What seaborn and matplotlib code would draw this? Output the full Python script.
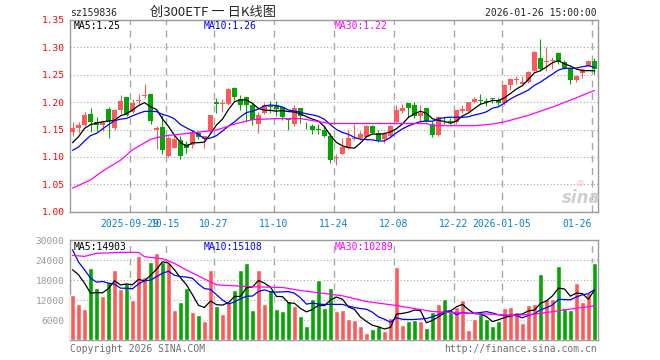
import numpy as np
import pandas as pd
import seaborn as sns
import matplotlib.pyplot as plt

# daily bars (open / high / low / close)
open_ = [1.145, 1.152, 1.159, 1.179, 1.164, 1.158, 1.187, 1.152, 1.185, 1.209,
         1.182, 1.202, 1.211, 1.215, 1.150, 1.154, 1.101, 1.117, 1.130, 1.123,
         1.121, 1.143, 1.132, 1.147, 1.200, 1.197, 1.196, 1.226, 1.205, 1.210,
         1.194, 1.161, 1.180, 1.193, 1.195, 1.191, 1.169, 1.160, 1.190, 1.164,
         1.156, 1.151, 1.149, 1.139, 1.098, 1.106, 1.116, 1.132, 1.135, 1.137,
         1.157, 1.144, 1.132, 1.139, 1.163, 1.183, 1.198, 1.194, 1.175, 1.189,
         1.160, 1.140, 1.166, 1.165, 1.163, 1.183, 1.183, 1.200, 1.204, 1.202,
         1.207, 1.204, 1.198, 1.231, 1.241, 1.234, 1.236, 1.257, 1.280, 1.274,
         1.275, 1.290, 1.274, 1.263, 1.241, 1.254, 1.266, 1.275]
high = [1.163, 1.164, 1.182, 1.190, 1.172, 1.166, 1.191, 1.187, 1.213, 1.209,
        1.205, 1.215, 1.233, 1.215, 1.156, 1.176, 1.139, 1.139, 1.138, 1.129,
        1.150, 1.147, 1.139, 1.176, 1.208, 1.205, 1.225, 1.227, 1.213, 1.210,
        1.200, 1.182, 1.199, 1.202, 1.202, 1.192, 1.170, 1.194, 1.190, 1.164,
        1.161, 1.161, 1.156, 1.144, 1.106, 1.135, 1.149, 1.161, 1.147, 1.158,
        1.158, 1.150, 1.145, 1.158, 1.195, 1.197, 1.199, 1.200, 1.194, 1.189,
        1.166, 1.175, 1.172, 1.171, 1.186, 1.194, 1.201, 1.210, 1.215, 1.208,
        1.208, 1.207, 1.233, 1.245, 1.248, 1.247, 1.256, 1.293, 1.315, 1.300,
        1.282, 1.292, 1.277, 1.264, 1.249, 1.262, 1.275, 1.280]
low = [1.138, 1.143, 1.157, 1.145, 1.148, 1.148, 1.134, 1.150, 1.179, 1.174,
       1.180, 1.197, 1.207, 1.160, 1.115, 1.106, 1.100, 1.116, 1.096, 1.107,
       1.116, 1.132, 1.116, 1.145, 1.180, 1.182, 1.195, 1.204, 1.185, 1.164,
       1.159, 1.144, 1.179, 1.180, 1.174, 1.168, 1.149, 1.156, 1.162, 1.151,
       1.141, 1.141, 1.137, 1.089, 1.085, 1.105, 1.115, 1.131, 1.130, 1.134,
       1.143, 1.128, 1.126, 1.137, 1.163, 1.181, 1.172, 1.171, 1.163, 1.164,
       1.136, 1.138, 1.160, 1.160, 1.161, 1.181, 1.182, 1.199, 1.196, 1.193,
       1.199, 1.195, 1.195, 1.222, 1.233, 1.233, 1.235, 1.256, 1.257, 1.257,
       1.261, 1.269, 1.261, 1.233, 1.237, 1.245, 1.266, 1.251]
close = [1.152, 1.159, 1.177, 1.163, 1.158, 1.164, 1.165, 1.185, 1.203, 1.177,
         1.199, 1.204, 1.213, 1.165, 1.152, 1.113, 1.135, 1.132, 1.101, 1.116,
         1.145, 1.136, 1.138, 1.176, 1.197, 1.198, 1.224, 1.209, 1.194, 1.194,
         1.168, 1.177, 1.194, 1.192, 1.187, 1.173, 1.168, 1.190, 1.174, 1.163,
         1.150, 1.150, 1.139, 1.094, 1.099, 1.119, 1.134, 1.134, 1.141, 1.157,
         1.144, 1.130, 1.141, 1.157, 1.185, 1.189, 1.189, 1.174, 1.180, 1.166,
         1.140, 1.173, 1.165, 1.164, 1.185, 1.187, 1.200, 1.206, 1.203, 1.201,
         1.206, 1.198, 1.232, 1.242, 1.242, 1.237, 1.255, 1.292, 1.261, 1.276,
         1.276, 1.274, 1.263, 1.241, 1.248, 1.261, 1.275, 1.261]
volume = [13600, 10900, 9400, 21700, 15700, 13300, 17300, 21100, 15400, 17200,
          12100, 25300, 19000, 23500, 26200, 23500, 23200, 9100, 11500, 15700,
          8500, 7600, 5800, 21100, 10300, 7900, 11200, 15100, 21100, 23200,
          9100, 21100, 10900, 15100, 9400, 8800, 11800, 10300, 7300, 4300,
          12400, 18100, 9700, 15700, 8800, 9100, 6500, 6100, 4300, 2200,
          3400, 4200, 2800, 6700, 22000, 4600, 5900, 6100, 5800, 3700,
          8400, 10900, 12400, 8400, 10000, 12000, 3100, 6400, 7800, 6300,
          4300, 5900, 9700, 10000, 8500, 5200, 10600, 10900, 19900, 12400,
          12500, 22300, 9700, 9100, 17200, 11500, 14000, 23200]

# averages that depend on days before the visible range
ma5_head = [1.126, 1.137, 1.152, 1.159]
ma10_head = [1.112, 1.118, 1.129, 1.139, 1.143, 1.151, 1.159, 1.166, 1.169]
ma30_bars = [0, 3, 5, 8, 10, 13, 15, 20, 24, 27, 30, 34, 38, 43, 53, 59, 60, 67,
             70, 72, 76, 80, 84, 86, 87]
ma30_vals = [1.043, 1.058, 1.074, 1.094, 1.113, 1.132, 1.138, 1.144, 1.149, 1.160,
             1.168, 1.170, 1.170, 1.161, 1.161, 1.161, 1.157, 1.157, 1.160, 1.164,
             1.176, 1.191, 1.208, 1.217, 1.221]
vol_ma5_head = [21100, 19600, 17100, 14100]
vol_ma10_head = [27100, 23400, 21100, 18600, 17400, 17600, 17100, 16800, 15600]
vol_ma30_bars = [0, 2, 4, 8, 11, 12, 15, 17, 19, 24, 30, 35, 38, 42, 45, 49, 54,
                 60, 66, 71, 73, 77, 82, 87]
vol_ma30_vals = [25400, 25100, 26000, 26300, 26300, 25000, 24400, 23000, 21000,
                 16600, 16000, 15800, 14900, 14000, 13300, 11600, 10400, 8600,
                 8100, 7700, 7400, 7800, 9100, 10300]

date_bars = [10, 16, 24, 34, 44, 54, 64, 72, 87]
date_labels = ["2025-09-29", "10-15", "10-27", "11-10", "11-24", "12-08",
               "12-22", "2026-01-05", "01-26"]
price_ticks = [1.00, 1.05, 1.10, 1.15, 1.20, 1.25, 1.30, 1.35]
vol_ticks = [6000, 12000, 18000, 24000, 30000]

RED = "#ff5a5a"
GREEN = "#05a505"
GRID = "#a8a8a8"
FRAME = "#9a9a9a"

sns.set_style("white")
plt.rcParams["font.family"] = ["DejaVu Sans Mono", "Noto Sans CJK SC"]

df = pd.DataFrame({"open": open_, "high": high, "low": low, "close": close,
                   "volume": volume})
df["bar"] = np.arange(len(df))
df["side"] = np.where(df["close"] >= df["open"], "up", "down")
colors = np.where(df["side"] == "up", RED, GREEN)

ma5 = df["close"].rolling(5).mean()
ma5.iloc[:len(ma5_head)] = ma5_head
ma10 = df["close"].rolling(10).mean()
ma10.iloc[:len(ma10_head)] = ma10_head
vma5 = df["volume"].rolling(5).mean()
vma5.iloc[:len(vol_ma5_head)] = vol_ma5_head
vma10 = df["volume"].rolling(10).mean()
vma10.iloc[:len(vol_ma10_head)] = vol_ma10_head

W, H = 660, 360
fig = plt.figure(figsize=(6.6, 3.6), dpi=100)
ax = fig.add_axes([70 / W, 1 - 211.7 / H, 527.7 / W, 191.7 / H])
axv = fig.add_axes([70 / W, 1 - 340.3 / H, 527.7 / W, 100.3 / H])

# candles
body_lo = np.minimum(df["open"], df["close"])
body_h = np.maximum((df["close"] - df["open"]).abs(), 0.0012)
ax.vlines(df["bar"], df["low"], df["high"], colors=colors, lw=0.8, zorder=3)
ax.bar(df["bar"], body_h, bottom=body_lo, width=0.82, color=colors, lw=0, zorder=4)

sns.lineplot(x=df["bar"], y=ma5, ax=ax, color="black", lw=0.9, zorder=5)
sns.lineplot(x=df["bar"], y=ma10, ax=ax, color="#0000ff", lw=0.9, zorder=5)
sns.lineplot(x=ma30_bars, y=ma30_vals, ax=ax, color="#ff00ff", lw=0.9, zorder=5)

# volume
sns.barplot(data=df, x="bar", y="volume", hue="side", palette={"up": RED, "down": GREEN},
            hue_order=["up", "down"], dodge=False, saturation=1, width=0.82,
            errorbar=None, native_scale=True, legend=False, ax=axv, zorder=3)
sns.lineplot(x=df["bar"], y=vma5, ax=axv, color="black", lw=0.9, zorder=5)
sns.lineplot(x=df["bar"], y=vma10, ax=axv, color="#0000ff", lw=0.9, zorder=5)
sns.lineplot(x=vol_ma30_bars, y=vol_ma30_vals, ax=axv, color="#ff00ff", lw=0.9, zorder=5)

grid_x = [b - 0.45 for b in date_bars]
for a, yt, ylim in [(ax, price_ticks, (1.0, 1.35)), (axv, vol_ticks, (0, 30000))]:
    a.set_xlim(-0.42, 87.55)
    a.set_ylim(*ylim)
    a.set_yticks(yt)
    a.set_xticks(grid_x)
    a.set_xlabel("")
    a.set_ylabel("")
    a.yaxis.grid(True, linestyle=(0, (1, 2)), color=GRID, lw=0.8)
    a.xaxis.grid(True, linestyle=(0, (5, 4)), color=GRID, lw=1.0)
    a.set_axisbelow(True)
    for s in a.spines.values():
        s.set_color(FRAME)
        s.set_linewidth(1.0)
        s.set_visible(True)

ax.set_xticklabels(date_labels)
ax.tick_params(axis="x", direction="in", length=3, color=FRAME, pad=5,
               labelsize=7, labelcolor="#0a80d0")
ax.get_xticklabels()[-1].set_ha("right")
ax.tick_params(axis="y", length=0, pad=4, labelsize=6.8, labelcolor="#ff0000")
ax.set_yticklabels([f"{v:.2f}" for v in price_ticks])

axv.set_xticklabels([])
axv.tick_params(axis="x", length=0)
axv.tick_params(axis="y", length=0, pad=4, labelsize=6.8, labelcolor="#9a9a9a")
axv.set_yticklabels([str(v) for v in vol_ticks])


def px(x, y):
    return x / W, 1 - y / H


fs = 7
fig.text(*px(70, 13.5), "sz159836", fontsize=fs, va="center")
fig.text(*px(213, 12.5), "创300ETF 一 日K线图", fontsize=9.5, va="center", ha="center",
         family=["Noto Sans CJK SC", "DejaVu Sans"])
fig.text(*px(597, 13.5), "2026-01-26 15:00:00", fontsize=fs, va="center", ha="right")

fig.text(*px(74, 26), "MA5:1.25", fontsize=fs, va="center", color="black")
fig.text(*px(204, 26), "MA10:1.26", fontsize=fs, va="center", color="#0000ff")
fig.text(*px(334.5, 26), "MA30:1.22", fontsize=fs, va="center", color="#ff00ff")
fig.text(*px(74, 246.5), "MA5:14903", fontsize=fs, va="center", color="black")
fig.text(*px(204, 246.5), "MA10:15108", fontsize=fs, va="center", color="#0000ff")
fig.text(*px(334.5, 246.5), "MA30:10289", fontsize=fs, va="center", color="#ff00ff")

fig.text(*px(70, 348.5), "Copyright 2026 SINA.COM", fontsize=fs, va="center", color="#707070")
fig.text(*px(597, 348.5), "http://finance.sina.com.cn", fontsize=fs, va="center",
         ha="right", color="#707070")

# faint sina watermark
fig.text(*px(581, 198), "sina", fontsize=12, va="center", ha="center", color="#cfcfcf",
         style="italic", weight="bold", family="DejaVu Sans")
fig.text(*px(580, 183), "◎", fontsize=6, va="center", ha="center", color="#f2b8b8",
         family="DejaVu Sans")

fig.savefig("out.png", dpi=100)
